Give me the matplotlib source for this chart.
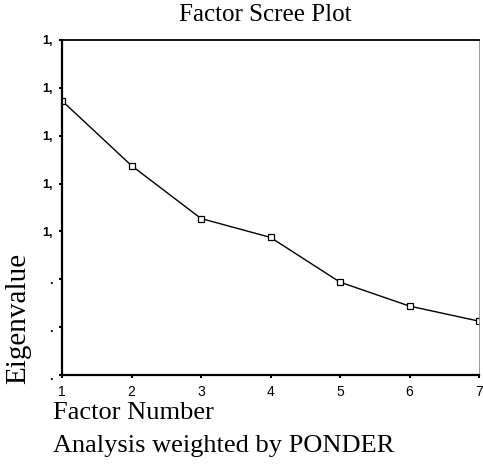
import numpy as np
import matplotlib.pyplot as plt

factors = [1, 2, 3, 4, 5, 6, 7]
eigenvalues = [1.546, 1.275, 1.054, 0.975, 0.788, 0.688, 0.625]
ytick_vals = [0.4, 0.6, 0.8, 1.0, 1.2, 1.4, 1.6, 1.8]
ytick_labels = ['.', '.', '.', '1,', '1,', '1,', '1,', '1,']

fig = plt.figure(figsize=(4.83, 4.70), dpi=100)
ax = fig.add_axes([62 / 483, 1 - 375 / 470, (479 - 62) / 483, (375 - 40) / 470])

ax.plot(factors, eigenvalues, color='black', linewidth=1.0,
        marker='s', markersize=4.5, markerfacecolor='white', markeredgecolor='black', markeredgewidth=0.9)

ax.set_xlim(1, 7)
ax.set_ylim(0.4, 1.8)
ax.set_xticks(factors)
ax.set_xticklabels([str(f) for f in factors], family='Liberation Sans', fontsize=10)
ax.set_yticks(ytick_vals)
ax.set_yticklabels(ytick_labels, family='Liberation Sans', fontsize=9, fontweight='bold')
ax.tick_params(axis='both', direction='out', length=2, width=1.5, pad=5)

ax.spines['left'].set_linewidth(1.6)
ax.spines['bottom'].set_linewidth(1.6)
ax.spines['top'].set_linewidth(1.3)
ax.spines['right'].set_linewidth(0.6)
ax.spines['right'].set_color('#888888')

fig.text(265 / 483, 1 - 15 / 470, 'Factor Scree Plot', family='Liberation Serif', fontsize=18,
         ha='center', va='center')
fig.text(18 / 483, 1 - 318 / 470, 'Eigenvalue', family='Liberation Serif', fontsize=21,
         rotation=90, ha='center', va='center')
fig.text(53 / 483, 1 - 413 / 470, 'Factor Number', family='Liberation Serif', fontsize=19,
         ha='left', va='center')
fig.text(53 / 483, 1 - 446 / 470, 'Analysis weighted by PONDER', family='Liberation Serif', fontsize=19,
         ha='left', va='center')

fig.savefig('out.png', dpi=100)
